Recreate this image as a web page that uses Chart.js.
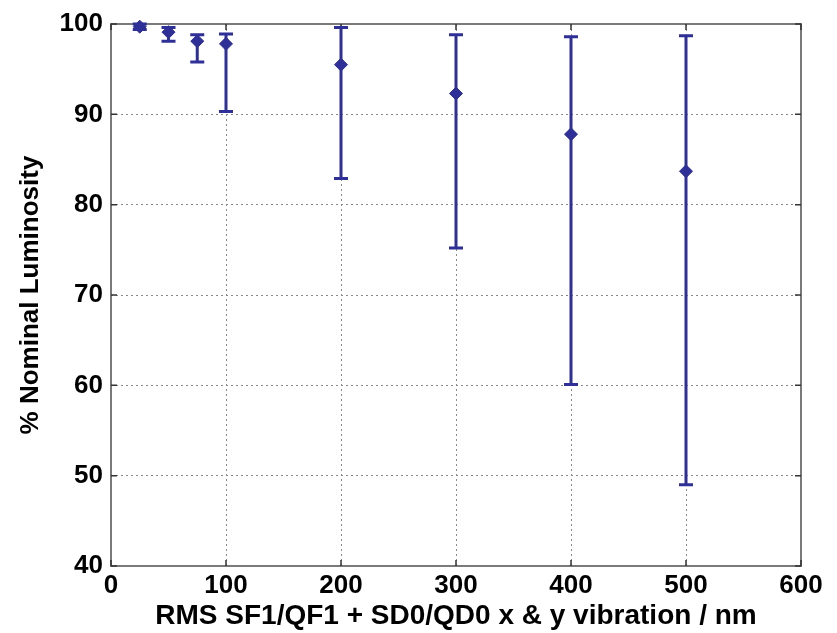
<!DOCTYPE html>
<html>
<head>
<meta charset="utf-8">
<script src="https://cdn.jsdelivr.net/npm/chart.js@4"></script>
<style>
  html, body { margin: 0; padding: 0; background: #fff; }
  #wrap { width: 837px; height: 633px; }
</style>
</head>
<body>
<div id="wrap"><canvas id="c" width="837" height="633"></canvas></div>
<script>
// vibration amplitude (nm) and luminosity (% nominal)
const xVals   = [25, 50, 75, 100, 200, 300, 400, 500]
const lumMean = [99.7, 99.1, 98.1, 97.8, 95.5, 92.3, 87.8, 83.7]
const lumHigh = [100.0, 99.6, 98.8, 98.9, 99.6, 98.8, 98.6, 98.7]
const lumLow  = [99.4, 98.1, 95.8, 90.3, 82.9, 75.2, 60.1, 49.0]

const xTicks = [0, 100, 200, 300, 400, 500, 600]
const yTicks = [40, 50, 60, 70, 80, 90, 100]

const BLUE = "#2f2f98"
const FRAME = "#7a7a7a"
const FONT = "'Liberation Sans', Arial, sans-serif"

const points = xVals.map((x, i) => ({x: x, y: lumMean[i]}))

// frame + inward ticks go under the data, error bars on top
const extras = {
    id: "extras",
    beforeDatasetsDraw(chart) {
        const ctx = chart.ctx
        const xs = chart.scales.x, ys = chart.scales.y
        const a = chart.chartArea
        ctx.save()
        ctx.strokeStyle = FRAME
        ctx.lineWidth = 2
        ctx.strokeRect(a.left, a.top, a.right - a.left, a.bottom - a.top)
        ctx.strokeStyle = "#333"
        ctx.lineWidth = 1.5
        ctx.beginPath()
        for (const t of xTicks) {
            const px = xs.getPixelForValue(t)
            ctx.moveTo(px, a.bottom); ctx.lineTo(px, a.bottom - 6)
            ctx.moveTo(px, a.top); ctx.lineTo(px, a.top + 6)
        }
        for (const t of yTicks) {
            const py = ys.getPixelForValue(t)
            ctx.moveTo(a.left, py); ctx.lineTo(a.left + 6, py)
            ctx.moveTo(a.right, py); ctx.lineTo(a.right - 6, py)
        }
        ctx.stroke()
        ctx.restore()
    },
    afterDatasetsDraw(chart) {
        const ctx = chart.ctx
        const xs = chart.scales.x, ys = chart.scales.y
        ctx.save()
        ctx.strokeStyle = BLUE
        ctx.lineWidth = 3
        for (let i = 0; i < xVals.length; i++) {
            const px = xs.getPixelForValue(xVals[i])
            const top = ys.getPixelForValue(lumHigh[i])
            const bot = ys.getPixelForValue(lumLow[i])
            ctx.beginPath()
            ctx.moveTo(px, top); ctx.lineTo(px, bot)
            ctx.moveTo(px - 7, top); ctx.lineTo(px + 7, top)
            ctx.moveTo(px - 7, bot); ctx.lineTo(px + 7, bot)
            ctx.stroke()
        }
        ctx.restore()
    }
}

new Chart(document.getElementById("c"), {
    type: "scatter",
    data: {
        datasets: [{
            data: points,
            backgroundColor: BLUE,
            borderColor: BLUE,
            pointStyle: "rectRot",
            pointRadius: 6.5,
            pointBorderWidth: 1,
            clip: false
        }]
    },
    options: {
        responsive: false,
        animation: false,
        layout: {padding: {top: 24, right: 36, left: 0, bottom: 0}},
        plugins: {legend: {display: false}, tooltip: {enabled: false}},
        scales: {
            x: {
                type: "linear",
                min: 0, max: 600,
                afterBuildTicks: s => { s.ticks = xTicks.map(v => ({value: v})) },
                afterFit: s => { s.height = 67 },
                grid: {color: "#8a8a8a", lineWidth: 1, drawTicks: false},
                border: {display: false, dash: [2, 3]},
                ticks: {color: "#000", padding: 4, maxRotation: 0,
                    font: {family: FONT, size: 26, weight: "bold"}},
                title: {display: true, text: "RMS SF1/QF1 + SD0/QD0 x & y vibration / nm", color: "#000", padding: {top: 0, bottom: 0},
                    font: {family: FONT, size: 28, weight: "bold"}}
            },
            y: {
                min: 40, max: 100,
                afterBuildTicks: s => { s.ticks = yTicks.map(v => ({value: v})) },
                afterFit: s => { s.width = 111 },
                grid: {color: "#8a8a8a", lineWidth: 1, drawTicks: false},
                border: {display: false, dash: [2, 3]},
                ticks: {color: "#000", padding: 8,
                    font: {family: FONT, size: 26, weight: "bold"}},
                title: {display: true, text: "% Nominal Luminosity", color: "#000", padding: {top: 15, bottom: 0},
                    font: {family: FONT, size: 26, weight: "bold"}}
            }
        }
    },
    plugins: [extras]
})
</script>
</body>
</html>
